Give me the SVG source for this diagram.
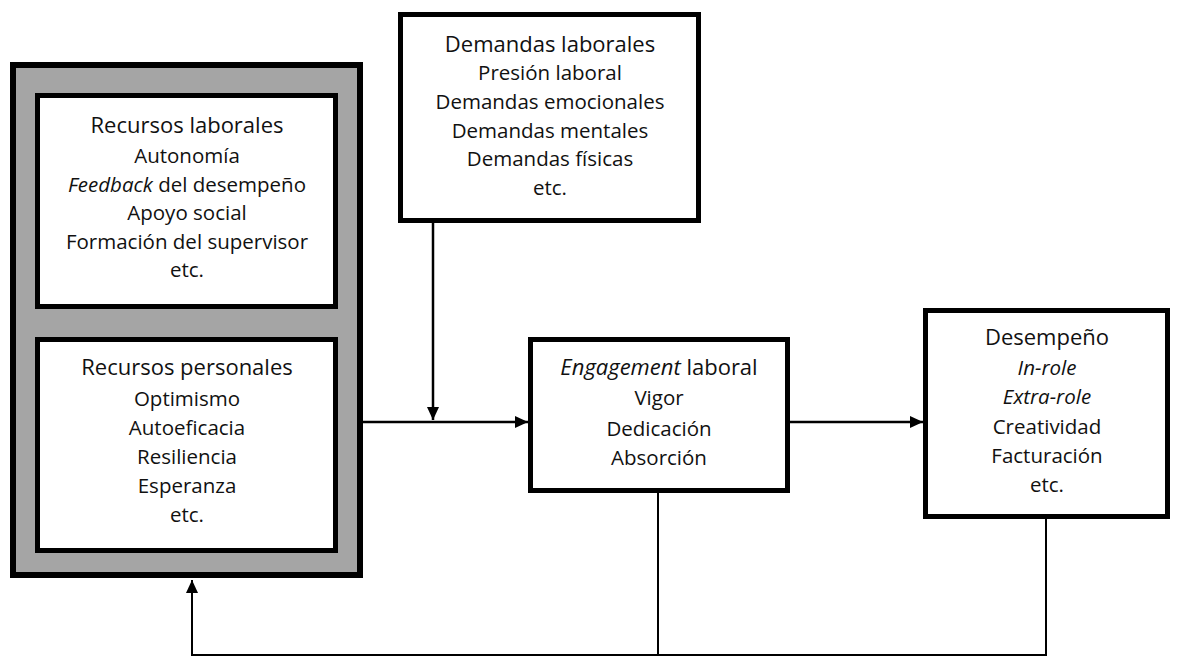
<svg xmlns="http://www.w3.org/2000/svg" width="1185" height="657" viewBox="0 0 1185 657">
<defs>
<style>
.box{fill:#fff;stroke:#000;stroke-width:5}
.t{font-family:"Open Sans","Liberation Sans",sans-serif;fill:#111;text-anchor:middle}
.h{font-size:22px}
.i{font-size:20.5px}
.c{fill:none;stroke:#000;stroke-width:2.5}
.c2{fill:none;stroke:#000;stroke-width:2}
</style>
<marker id="ah" markerUnits="userSpaceOnUse" markerWidth="14" markerHeight="12" refX="13" refY="6" orient="auto">
<path d="M0,0 L13,6 L0,12 Z" fill="#000"/>
</marker>
</defs>
<rect width="1185" height="657" fill="#fff"/>
<g id="recursos">
<rect x="13" y="65" width="347" height="510" fill="#a5a5a5" stroke="#000" stroke-width="6"/>
<g id="recursos-laborales">
<rect class="box" x="37.5" y="95.5" width="298" height="211"/>
<text class="t h" x="187" y="133">Recursos laborales</text>
<text class="t i" x="187" y="163">Autonomía</text>
<text class="t i" x="187" y="192"><tspan font-style="italic">Feedback</tspan> del desempeño</text>
<text class="t i" x="187" y="220">Apoyo social</text>
<text class="t i" x="187" y="249">Formación del supervisor</text>
<text class="t i" x="187" y="277">etc.</text>
</g>
<g id="recursos-personales">
<rect class="box" x="37.5" y="339.5" width="298" height="211"/>
<text class="t h" x="187" y="375">Recursos personales</text>
<text class="t i" x="187" y="406">Optimismo</text>
<text class="t i" x="187" y="435">Autoeficacia</text>
<text class="t i" x="187" y="464">Resiliencia</text>
<text class="t i" x="187" y="493">Esperanza</text>
<text class="t i" x="187" y="522">etc.</text>
</g>
</g>
<g id="demandas">
<rect class="box" x="400.5" y="14.5" width="298" height="206"/>
<text class="t h" x="550" y="52">Demandas laborales</text>
<text class="t i" x="550" y="80">Presión laboral</text>
<text class="t i" x="550" y="109">Demandas emocionales</text>
<text class="t i" x="550" y="138">Demandas mentales</text>
<text class="t i" x="550" y="166">Demandas físicas</text>
<text class="t i" x="550" y="195">etc.</text>
</g>
<g id="engagement">
<rect class="box" x="530.5" y="339.5" width="257" height="151"/>
<text class="t h" x="659" y="375"><tspan font-style="italic">Engagement</tspan> laboral</text>
<text class="t i" x="659" y="405">Vigor</text>
<text class="t i" x="659" y="436">Dedicación</text>
<text class="t i" x="659" y="465">Absorción</text>
</g>
<g id="desempeno">
<rect class="box" x="925.5" y="310.5" width="242" height="206"/>
<text class="t h" x="1047" y="345">Desempeño</text>
<text class="t i" x="1047" y="375" font-style="italic">In-role</text>
<text class="t i" x="1047" y="404" font-style="italic">Extra-role</text>
<text class="t i" x="1047" y="434">Creatividad</text>
<text class="t i" x="1047" y="463">Facturación</text>
<text class="t i" x="1047" y="492">etc.</text>
</g>
<g id="connectors">
<line class="c" x1="363" y1="422" x2="528" y2="422" marker-end="url(#ah)"/>
<line class="c" x1="433" y1="223" x2="433" y2="420" marker-end="url(#ah)"/>
<line class="c" x1="790" y1="422" x2="923" y2="422" marker-end="url(#ah)"/>
<polyline class="c2" points="658,493 658,655"/>
<polyline class="c2" points="1046,519 1046,655 192,655 192,580" marker-end="url(#ah)"/>
</g>
</svg>
